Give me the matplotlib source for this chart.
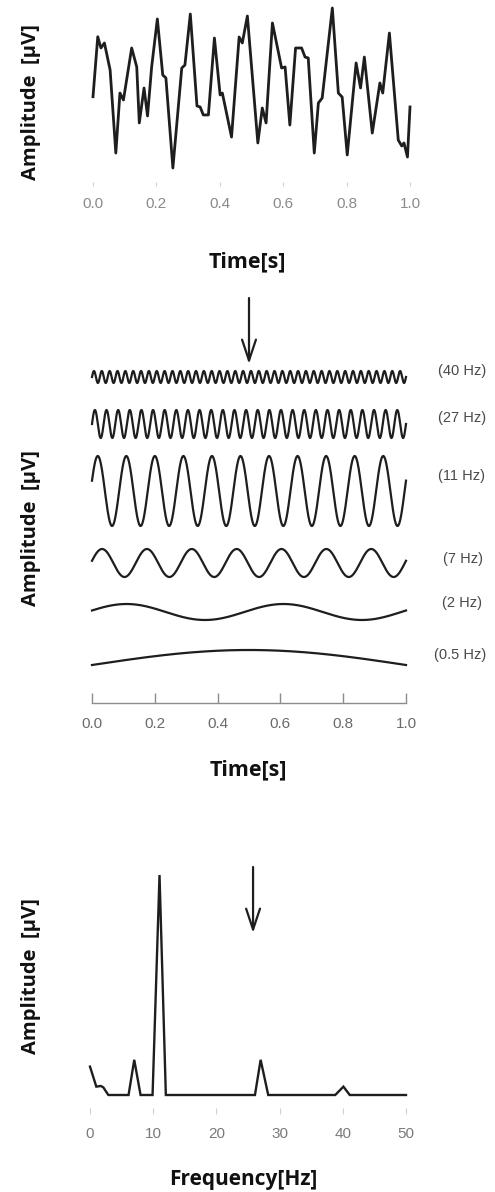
import matplotlib
matplotlib.use("Agg")
import matplotlib.pyplot as plt
import numpy as np

# ---------------- data ----------------
# composite EEG-like signal
sig_time = [0.0, 0.015, 0.025, 0.036, 0.054, 0.072, 0.085, 0.096, 0.122, 0.138,
            0.146, 0.161, 0.172, 0.185, 0.203, 0.220, 0.230, 0.252, 0.280, 0.290,
            0.307, 0.328, 0.338, 0.348, 0.364, 0.383, 0.401, 0.408, 0.437, 0.461,
            0.471, 0.487, 0.520, 0.534, 0.546, 0.566, 0.595, 0.606, 0.621, 0.639,
            0.658, 0.669, 0.679, 0.698, 0.711, 0.723, 0.755, 0.774, 0.786, 0.802,
            0.830, 0.844, 0.856, 0.881, 0.905, 0.914, 0.935, 0.963, 0.974, 0.981,
            0.992, 1.0]
sig_amp = [-0.84, 6.66, 5.25, 5.88, 2.5, -7.88, -0.38, -1.25, 5.25, 2.88,
           -4.12, 0.25, -3.25, 2.88, 8.88, 1.88, 1.5, -9.75, 2.75, 3.12,
           9.5, -2.0, -2.12, -3.12, -3.12, 6.5, -0.62, -0.38, -5.88, 6.62,
           5.88, 9.25, -6.62, -2.25, -4.12, 8.38, 2.75, 2.88, -4.38, 5.25,
           5.25, 4.12, 4.0, -7.88, -1.62, -1.0, 10.25, -0.38, -0.88, -8.12,
           3.38, 0.25, 4.12, -5.38, 0.88, -0.38, 7.12, -6.25, -7.0, -6.62,
           -8.38, -2.12]

# sinusoidal components
comp_labels = ["(40 Hz)", "(27 Hz)", "(11 Hz)", "(7 Hz)", "(2 Hz)", "(0.5 Hz)"]
comp_freq = [40, 27, 11, 7, 2, 0.5]
comp_amp = [6, 14, 35, 14, 8, 15]
comp_phase = [0.0, 0.0, 0.3, 0.16, 0.19, 0.0]

# spectrum
spec_freq = [0, 1.0, 1.7, 2.1, 2.9, 6.1, 7.0, 8.0, 9.9, 11.0, 12.0, 26.1, 27.0, 28.2,
             38.8, 40.1, 41.1, 50]
spec_amp = [1.29, 0.38, 0.41, 0.35, 0, 0, 1.6, 0, 0, 10.0, 0, 0, 1.6, 0,
            0, 0.38, 0, 0]

time_ticks = [0.0, 0.2, 0.4, 0.6, 0.8, 1.0]
time_ticklabels = ["0.0", "0.2", "0.4", "0.6", "0.8", "1.0"]
freq_ticks = [0, 10, 20, 30, 40, 50]
freq_ticklabels = ["0", "10", "20", "30", "40", "50"]

# ---------------- layout ----------------
W, H = 495, 1192
fig = plt.figure(figsize=(W / 100, H / 100), dpi=100)
fig.patch.set_facecolor("white")

LINE = "#1e1e1e"
TICKFONT = ["Liberation Sans", "DejaVu Sans"]
LABELFONT = ["Open Sans", "DejaVu Sans"]


def rect(l, t, r, b):
    return [l / W, 1 - b / H, (r - l) / W, (b - t) / H]


def ftext(x, y, s, **kw):
    fig.text(x / W, 1 - y / H, s, **kw)


# ---- top panel: composite signal ----
ax1 = fig.add_axes(rect(86.66, 4, 416.34, 186))
ax1.plot(sig_time, sig_amp, color=LINE, lw=2.0, solid_joinstyle="round")
ax1.set_xlim(-0.02, 1.02)
ax1.set_ylim(-12, 10.75)
for s in ax1.spines.values():
    s.set_visible(False)
ax1.set_yticks([])
ax1.set_xticks(time_ticks)
ax1.set_xticklabels(time_ticklabels, fontfamily=TICKFONT, fontsize=11, color="#8a8a8a")
ax1.tick_params(axis="x", direction="in", length=3, width=0.8, color="#d0d0d0", pad=8)

# ---- middle panel: components ----
ax2 = fig.add_axes(rect(85.72, 290, 412.28, 702.7))
offsets = [325.7, 278.7, 211.7, 139.7, 90.7, 37.7]
t = np.linspace(0, 1, 4000)
for f, a, ph, off in zip(comp_freq, comp_amp, comp_phase, offsets):
    ax2.plot(t, off + a * np.sin(2 * np.pi * f * t + ph), color=LINE, lw=1.6)
ax2.set_xlim(-0.02, 1.02)
ax2.set_ylim(0, 412.7)
for k in ["top", "left", "right"]:
    ax2.spines[k].set_visible(False)
ax2.spines["bottom"].set_bounds(0, 1)
ax2.spines["bottom"].set_color("#8c8c8c")
ax2.spines["bottom"].set_linewidth(1.0)
ax2.set_yticks([])
ax2.set_xticks(time_ticks)
ax2.set_xticklabels(time_ticklabels, fontfamily=TICKFONT, fontsize=11, color="#6a6a6a")
ax2.tick_params(axis="x", direction="in", length=7, width=1.0, color="#8c8c8c", pad=10)
ax2.annotate("", xy=(0.5, 702.7 - 364), xytext=(0.5, 702.7 - 298),
             arrowprops=dict(arrowstyle="->,head_length=0.75,head_width=0.25",
                             lw=1.6, color=LINE, mutation_scale=20, shrinkA=0, shrinkB=0))

label_y = [371, 418, 476, 559, 603, 655]
label_x = [462, 462, 462, 463, 462, 460]
for s, x, y in zip(comp_labels, label_x, label_y):
    ftext(x, y, s, ha="center", va="center", fontsize=10.5, color="#4a4a4a",
          fontfamily=TICKFONT)

# ---- bottom panel: spectrum ----
ax3 = fig.add_axes(rect(83.68, 860, 412.32, 1114))
ax3.plot(spec_freq, spec_amp, color=LINE, lw=1.7, solid_joinstyle="miter")
ax3.set_xlim(-1, 51)
ax3.set_ylim((1095 - 1114) / 22, (1095 - 860) / 22)
for s in ax3.spines.values():
    s.set_visible(False)
ax3.set_yticks([])
ax3.set_xticks(freq_ticks)
ax3.set_xticklabels(freq_ticklabels, fontfamily=TICKFONT, fontsize=11, color="#7a7a7a")
ax3.tick_params(axis="x", direction="in", length=4, width=0.8, color="#d0d0d0", pad=9)
ax3.annotate("", xy=(25.8, (1095 - 933) / 22), xytext=(25.8, (1095 - 867) / 22),
             arrowprops=dict(arrowstyle="->,head_length=0.75,head_width=0.25",
                             lw=1.6, color=LINE, mutation_scale=20, shrinkA=0, shrinkB=0))

# ---- axis titles ----
for yc in [102, 528, 976]:
    ftext(31.5, yc, "Amplitude  [\u03bcV]", rotation=90, ha="center", va="center",
          fontsize=14.5, fontweight="bold", fontfamily=LABELFONT, color="#111111")
ftext(247, 267, "Time[s]", ha="center", va="baseline", fontsize=15.5,
      fontweight="bold", fontfamily=LABELFONT, color="#111111")
ftext(248, 775, "Time[s]", ha="center", va="baseline", fontsize=15.5,
      fontweight="bold", fontfamily=LABELFONT, color="#111111")
ftext(243, 1185, "Frequency[Hz]", ha="center", va="baseline", fontsize=15,
      fontweight="bold", fontfamily=LABELFONT, color="#111111")

fig.savefig("out.png", dpi=100, facecolor="white")
